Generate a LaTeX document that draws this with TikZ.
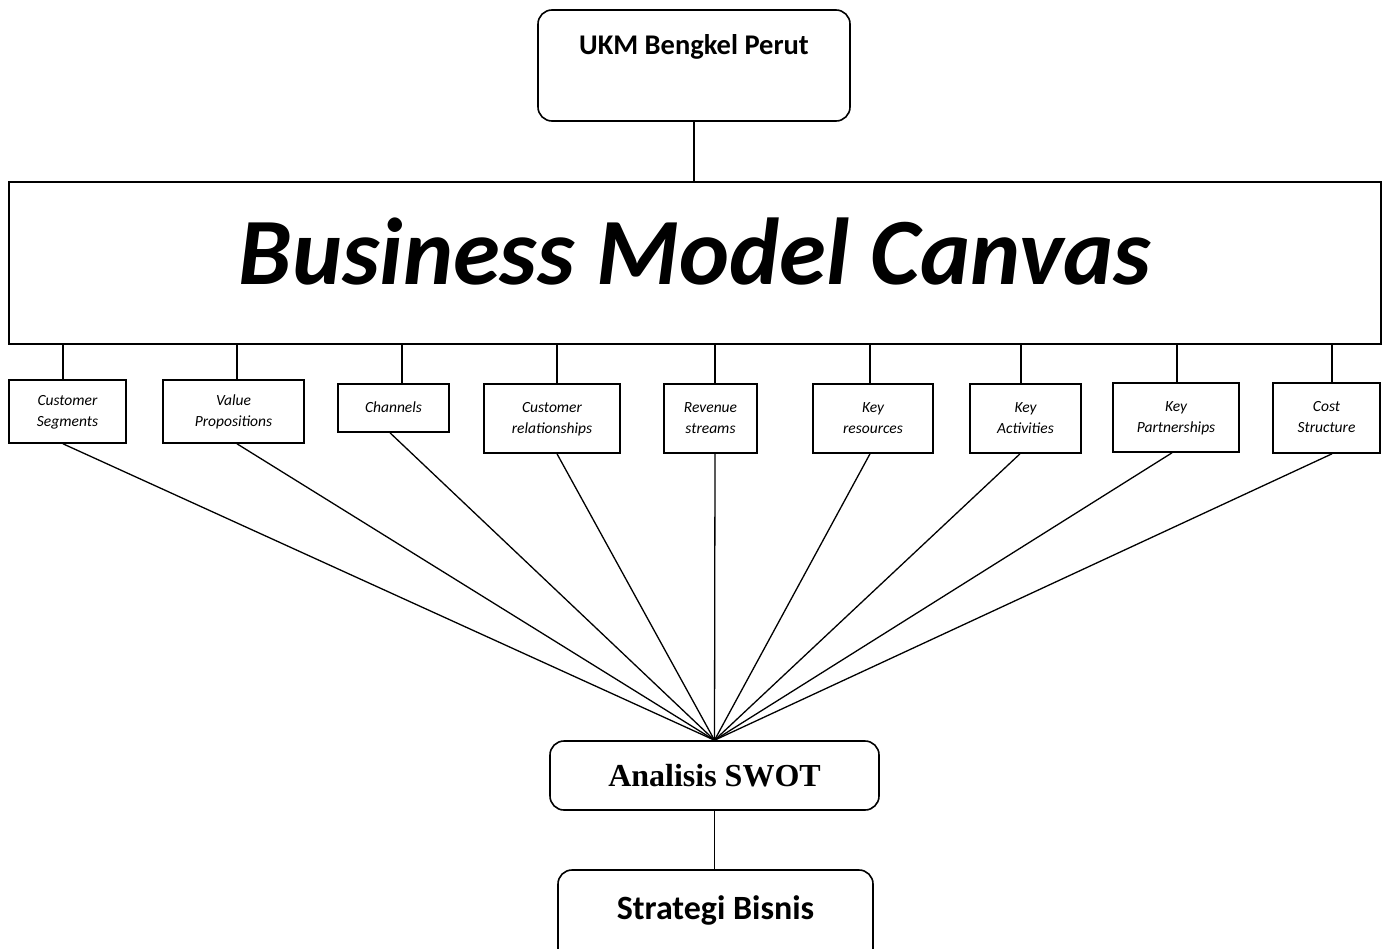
\documentclass[tikz,border=0pt]{standalone}
\usepackage{fontspec}
\setmainfont{Carlito}
\newfontfamily\timesf{Liberation Serif}
\begin{document}
\begin{tikzpicture}[x=1pt,y=-1pt,
  box/.style={draw, line width=1.6pt, inner sep=0pt, anchor=center},
  rbox/.style={box, rounded corners=14pt},
  small/.style={box, align=center, font=\fontsize{15.5}{21}\selectfont\itshape, text depth=1.5pt},
  conn/.style={line width=1.3pt}]
\useasboundingbox (0,0) rectangle (1386,948);
\clip (0,0) rectangle (1386,948);
\fill[white] (0,0) rectangle (1386,948);
% top
\node[rbox, minimum width=312pt, minimum height=111pt] (ukm) at (694,65.5) {};
\node[font=\fontsize{28.5}{32}\selectfont\bfseries] (ukmtext) at (694,47) {UKM Bengkel Perut};
\node[box, minimum width=1372pt, minimum height=162pt] (bmc) at (695,263) {};
\node[font=\fontsize{95}{100}\selectfont\bfseries\itshape] (bmctext) at (695,252) {Business Model Canvas};
\draw[conn] (ukm.south) -- (ukm.south |- bmc.north);
% small boxes
\node[small, minimum width=117pt, minimum height=63pt] (cs) at (67.5,411.5) {Customer\\Segments};
\node[small, minimum width=141pt, minimum height=63pt] (vp) at (233.5,411.5) {Value\\Propositions};
\node[small, minimum width=111pt, minimum height=48pt] (ch) at (393.5,408) {Channels};
\node[small, minimum width=136pt, minimum height=69pt] (cr) at (552,418.5) {Customer\\relationships};
\node[small, minimum width=93pt, minimum height=69pt] (rs) at (710.5,418.5) {Revenue\\streams};
\node[small, minimum width=120pt, minimum height=69pt] (kr) at (873,418.5) {Key\\resources};
\node[small, minimum width=111pt, minimum height=69pt] (ka) at (1025.5,418.5) {Key\\Activities};
\node[small, minimum width=126pt, minimum height=69pt] (kp) at (1176,417.5) {Key\\Partnerships};
\node[small, minimum width=107pt, minimum height=70pt] (cost) at (1326.5,418) {Cost\\Structure};
% connectors from bmc
\draw[conn] ([xshift=-4.5pt]cs.north) -- ([xshift=-4.5pt]cs.north |- bmc.south);
\draw[conn] ([xshift=3.5pt]vp.north) -- ([xshift=3.5pt]vp.north |- bmc.south);
\draw[conn] ([xshift=8.5pt]ch.north) -- ([xshift=8.5pt]ch.north |- bmc.south);
\draw[conn] ([xshift=5pt]cr.north) -- ([xshift=5pt]cr.north |- bmc.south);
\draw[conn] ([xshift=4.5pt]rs.north) -- ([xshift=4.5pt]rs.north |- bmc.south);
\draw[conn] ([xshift=-3pt]kr.north) -- ([xshift=-3pt]kr.north |- bmc.south);
\draw[conn] ([xshift=-4.5pt]ka.north) -- ([xshift=-4.5pt]ka.north |- bmc.south);
\draw[conn] ([xshift=1pt]kp.north) -- ([xshift=1pt]kp.north |- bmc.south);
\draw[conn] ([xshift=5.5pt]cost.north) -- ([xshift=5.5pt]cost.north |- bmc.south);
% bottom
\node[rbox, minimum width=329pt, minimum height=69pt, font=\timesf\fontsize{32}{35}\selectfont\bfseries] (swot) at (714.5,775.5) {Analisis SWOT};
\node[rbox, minimum width=315pt, minimum height=100pt] (sb) at (715.5,920) {};
\node[font=\fontsize{34}{38}\selectfont\bfseries] (sbtext) at (715.5,910) {Strategi Bisnis};
\draw[conn] (swot.south) -- (swot.south |- sb.north);
% converging lines
\draw[conn] ([xshift=-4.5pt]cs.south) -- (swot.north);
\draw[conn] ([xshift=3.5pt]vp.south) -- (swot.north);
\draw[conn] ([xshift=-3.5pt]ch.south) -- (swot.north);
\draw[conn] ([xshift=5pt]cr.south) -- (swot.north);
\draw[conn] ([xshift=4.5pt]rs.south) -- (swot.north);
\draw[conn] ([xshift=-3pt]kr.south) -- (swot.north);
\draw[conn] ([xshift=-5.5pt]ka.south) -- (swot.north);
\draw[conn] ([xshift=-4pt]kp.south) -- (swot.north);
\draw[conn] ([xshift=5.5pt]cost.south) -- (swot.north);
\end{tikzpicture}
\end{document}
